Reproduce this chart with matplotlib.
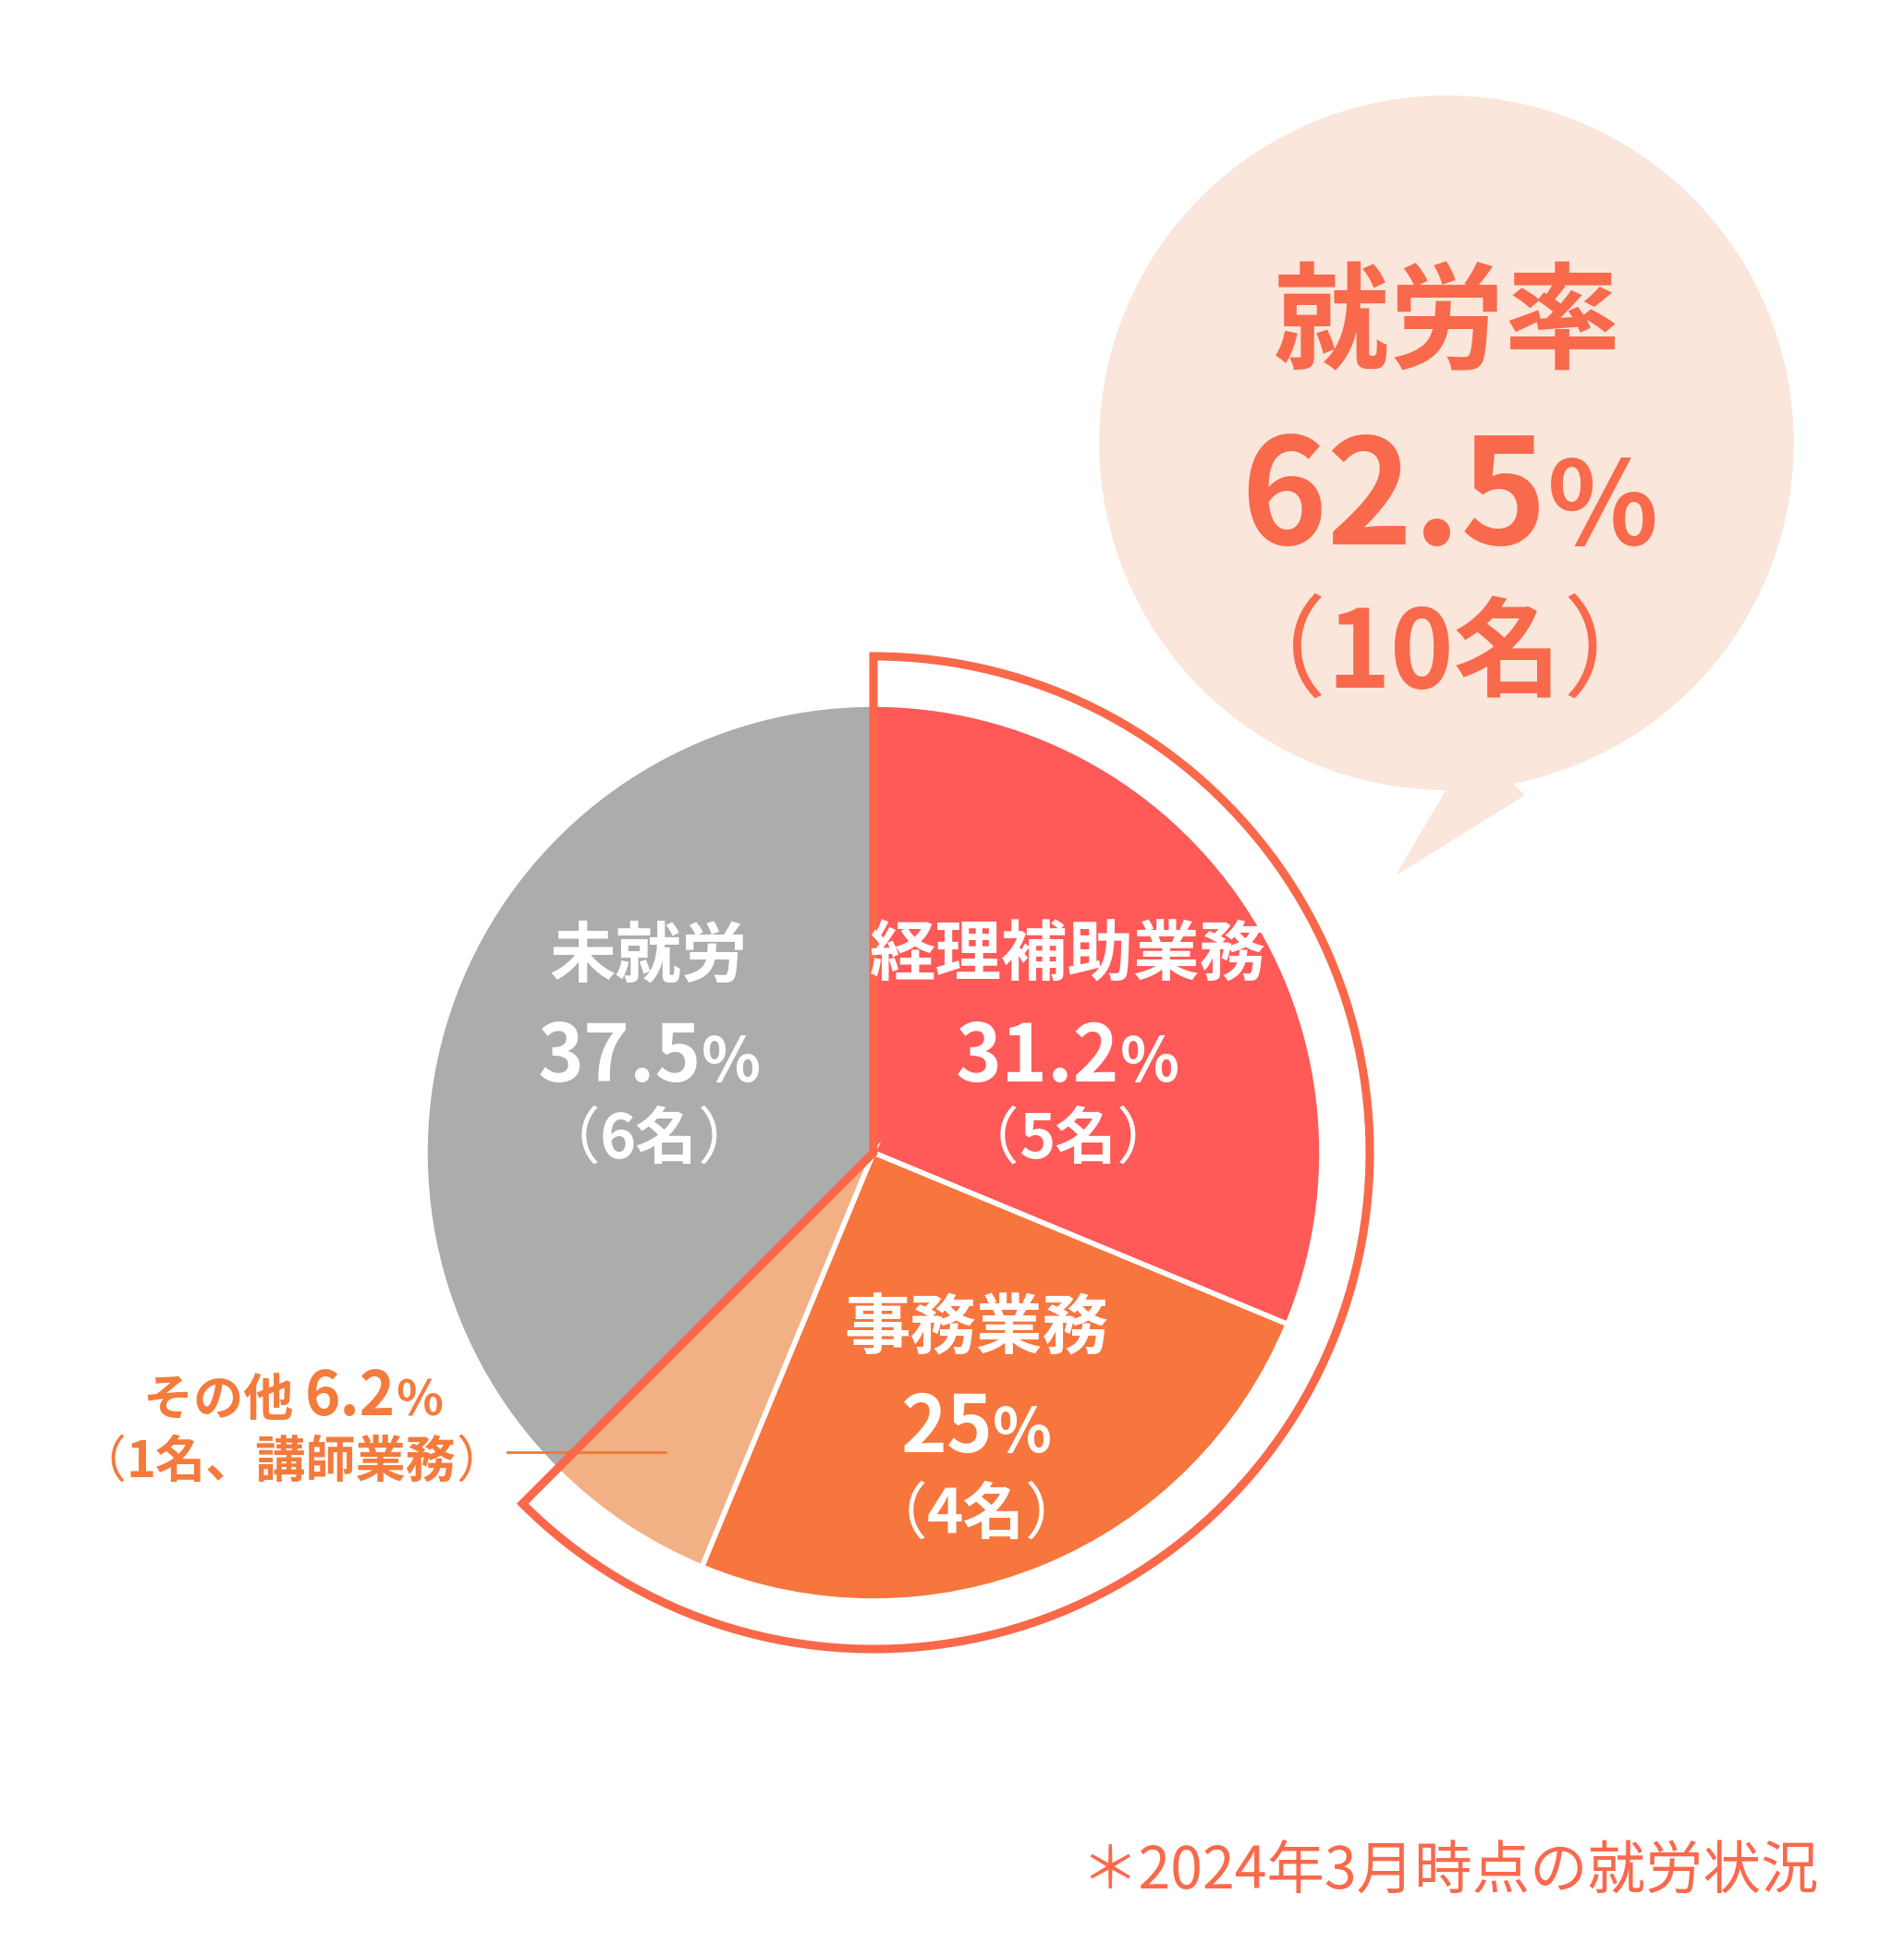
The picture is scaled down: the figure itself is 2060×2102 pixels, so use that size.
import matplotlib
matplotlib.use('Agg')
import matplotlib.pyplot as plt
from matplotlib.patches import Circle, Polygon, Wedge

plt.rcParams['font.family'] = ['Noto Sans CJK JP', 'DejaVu Sans']

# データ（2024年3月時点）
labels = ['経理補助業務', '事務業務', 'その他', '未就労']
counts = [5, 4, 1, 6]
pcts = ['31.2', '25', '6.2', '37.5']
colors = ['#FF5A58', '#F6763D', '#F2B085', '#ACACAC']
rate_title = '就労率'
rate_pct = '62.5'
rate_count = 10
other_note = '講師業務'
footnote = '＊2024年3月時点の就労状況'

ring_col = '#FA684A'
bubble_col = '#FAE6DA'
text_col = '#F9694C'
other_col = '#F47B3C'

W, H = 2060, 2102
fig = plt.figure(figsize=(W / 100, H / 100), dpi=100)
ax = fig.add_axes([0, 0, 1, 1])

cx, cy, r = 945, H - 1247, 485
ax.pie(counts, colors=colors, startangle=90, counterclock=False,
       center=(cx, cy), radius=r,
       wedgeprops=dict(edgecolor='white', linewidth=4))
ax.set_xlim(0, W)
ax.set_ylim(0, H)
ax.set_aspect('equal')
ax.axis('off')

# 就労者の範囲を囲む枠
share = sum(counts[:3]) / sum(counts)
ax.plot([549, 720], [H - 1571, H - 1571], color='#EE7A33', lw=2, zorder=3)
ax.add_patch(Wedge((cx, cy), 537, 90 - 360 * share, 90, fill=False,
                   edgecolor=ring_col, linewidth=6.5, joinstyle='miter', zorder=4))

# 吹き出し
ax.add_patch(Circle((1565, H - 479), 375, color=bubble_col, zorder=1))
ax.add_patch(Polygon([(1568, H - 850), (1512, H - 945), (1649, H - 860), (1628, H - 840)],
                     closed=True, color=bubble_col, zorder=1))


def put(parts, x, y, color, z=5):
    # 大きさの違う文字列を横に並べて中央揃え
    rend = fig.canvas.get_renderer()
    items = [ax.text(0, y, s, fontsize=fs, fontweight=fw, color=color,
                     ha='left', va='baseline', zorder=z) for s, fs, fw in parts]
    ws = [t.get_window_extent(rend).width for t in items]
    x0 = x - sum(ws) / 2
    for t, w in zip(items, ws):
        t.set_x(x0)
        x0 += w


ax.text(1565, H - 353, rate_title, fontsize=90, fontweight='bold', color=text_col,
        ha='center', va='center', zorder=5)
put([(rate_pct, 114, 'bold'), ('%', 90, 'bold')], 1568, H - 589, text_col)
put([('（', 86, 'normal'), (f'{rate_count}名', 84, 'bold'), ('）', 86, 'normal')],
    1563, H - 744, text_col)

# 円グラフ内のラベル
pos = {0: (1155, 1035, 1170, 1253), 1: (1056, 1439, 1571, 1659), 3: (702, 1036, 1170, 1253)}
for i, (x, y1, y2, y3) in pos.items():
    ax.text(x, H - y1, labels[i], fontsize=51.5, fontweight='bold', color='white',
            ha='center', va='center', zorder=5)
    put([(pcts[i], 61, 'bold'), ('%', 48, 'bold')], x, H - y2, 'white')
    put([('（', 48, 'normal'), (f'{counts[i]}名', 48, 'bold'), ('）', 48, 'normal')],
        x, H - y3, 'white')

# その他
put([(labels[2] + ' ', 39, 'bold'), (pcts[2], 47, 'bold'), ('%', 38, 'bold')],
    317, H - 1531, other_col)
put([('（', 39, 'normal'), (f'{counts[2]}名、{other_note}', 39, 'bold'), ('）', 39, 'normal')],
    315, H - 1598, other_col)

ax.text(1968, H - 2044, footnote, fontsize=45, color=text_col,
        ha='right', va='baseline', zorder=5)

fig.savefig('out.png', dpi=100)
